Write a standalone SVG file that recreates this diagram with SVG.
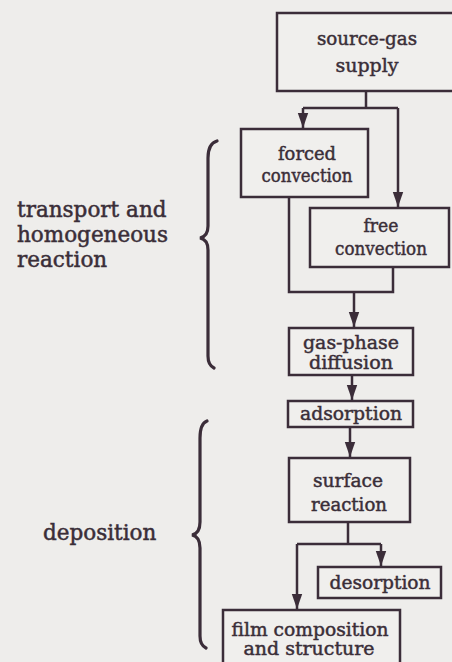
<svg xmlns="http://www.w3.org/2000/svg" width="452" height="662" viewBox="0 0 452 662">
  <style>
    .box { fill: #f0efed; stroke: #3b2d39; stroke-width: 2.5; }
    .t { font-family: "DejaVu Serif", "Liberation Serif", serif; font-size: 18px; fill: #3a2e38; stroke: #3a2e38; stroke-width: 0.45; text-anchor: middle; }
    .lbl { font-family: "DejaVu Serif", "Liberation Serif", serif; font-size: 21.5px; fill: #3a2e38; stroke: #3a2e38; stroke-width: 0.5; }
    .c { fill: none; stroke: #3b2d39; stroke-width: 2.5; }
    .br { fill: none; stroke: #3b2d39; stroke-width: 3.2; stroke-linecap: round; }
  </style>
  <defs>
    <marker id="ah" markerUnits="userSpaceOnUse" markerWidth="18" markerHeight="14" viewBox="-16 -7 17 14" refX="0" refY="0" orient="auto" overflow="visible">
      <path d="M0,0 L-15,-5.2 L-15,5.2 Z" fill="#3b2d39"/>
    </marker>
  </defs>
  <rect x="0" y="0" width="452" height="662" fill="#eeedeb"/>

  <g id="connectors">
    <path class="c" d="M366,92 V108 M303,108 H398"/>
    <path class="c" d="M303,108 V128" marker-end="url(#ah)"/>
    <path class="c" d="M398,108 V207" marker-end="url(#ah)"/>
    <path class="c" d="M289,197 V292 H393 V267"/>
    <path class="c" d="M354,292 V327" marker-end="url(#ah)"/>
    <path class="c" d="M352,375 V400" marker-end="url(#ah)"/>
    <path class="c" d="M350,427 V457" marker-end="url(#ah)"/>
    <path class="c" d="M348,522 V544 M297,544 H381"/>
    <path class="c" d="M381,544 V566" marker-end="url(#ah)"/>
    <path class="c" d="M297,544 V609" marker-end="url(#ah)"/>
  </g>

  <g id="source-gas-supply">
    <rect class="box" x="277" y="13" width="190" height="78"/>
    <text class="t" x="367" y="45" font-size="19" textLength="100" lengthAdjust="spacingAndGlyphs">source-gas</text>
    <text class="t" x="367" y="72" font-size="19" textLength="63" lengthAdjust="spacingAndGlyphs">supply</text>
  </g>
  <g id="forced-convection">
    <rect class="box" x="241" y="129" width="127" height="68"/>
    <text class="t" x="307" y="160" textLength="58" lengthAdjust="spacingAndGlyphs">forced</text>
    <text class="t" x="307" y="182" textLength="91" lengthAdjust="spacingAndGlyphs">convection</text>
  </g>
  <g id="free-convection">
    <rect class="box" x="310" y="208" width="139" height="59"/>
    <text class="t" x="381" y="232" textLength="35" lengthAdjust="spacingAndGlyphs">free</text>
    <text class="t" x="381" y="255" textLength="92" lengthAdjust="spacingAndGlyphs">convection</text>
  </g>
  <g id="gas-phase-diffusion">
    <rect class="box" x="289" y="328" width="124" height="47"/>
    <text class="t" x="351" y="349" font-size="16.5" textLength="96" lengthAdjust="spacingAndGlyphs">gas-phase</text>
    <text class="t" x="351" y="369" font-size="16.5" textLength="84" lengthAdjust="spacingAndGlyphs">diffusion</text>
  </g>
  <g id="adsorption">
    <rect class="box" x="288" y="401" width="125" height="26"/>
    <text class="t" x="351" y="420" textLength="102" lengthAdjust="spacingAndGlyphs">adsorption</text>
  </g>
  <g id="surface-reaction">
    <rect class="box" x="289" y="458" width="121" height="64"/>
    <text class="t" x="348" y="487" textLength="70" lengthAdjust="spacingAndGlyphs">surface</text>
    <text class="t" x="349" y="511" textLength="76" lengthAdjust="spacingAndGlyphs">reaction</text>
  </g>
  <g id="desorption">
    <rect class="box" x="318" y="567" width="123" height="31"/>
    <text class="t" x="380" y="589" textLength="101" lengthAdjust="spacingAndGlyphs">desorption</text>
  </g>
  <g id="film-composition">
    <rect class="box" x="223" y="610" width="177" height="60"/>
    <text class="t" x="310" y="636" textLength="157" lengthAdjust="spacingAndGlyphs">film composition</text>
    <text class="t" x="309" y="655" textLength="131" lengthAdjust="spacingAndGlyphs">and structure</text>
  </g>

  <g id="transport-label">
    <text class="lbl" x="17" y="217">transport and</text>
    <text class="lbl" x="17" y="242">homogeneous</text>
    <text class="lbl" x="17" y="267">reaction</text>
    <path class="br" d="M217,141 C210,143 208,149 208,158 L208,226 C208,233 205,237 200,238 C205,239 208,243 208,250 L208,356 C208,363 210,366 214,368"/>
  </g>
  <g id="deposition-label">
    <text class="lbl" x="43" y="540">deposition</text>
    <path class="br" d="M207,421 C202,423 200,429 200,438 L200,522 C200,530 197,534 192,535 C197,536 200,540 200,548 L200,636 C200,643 202,646 206,648"/>
  </g>
</svg>
